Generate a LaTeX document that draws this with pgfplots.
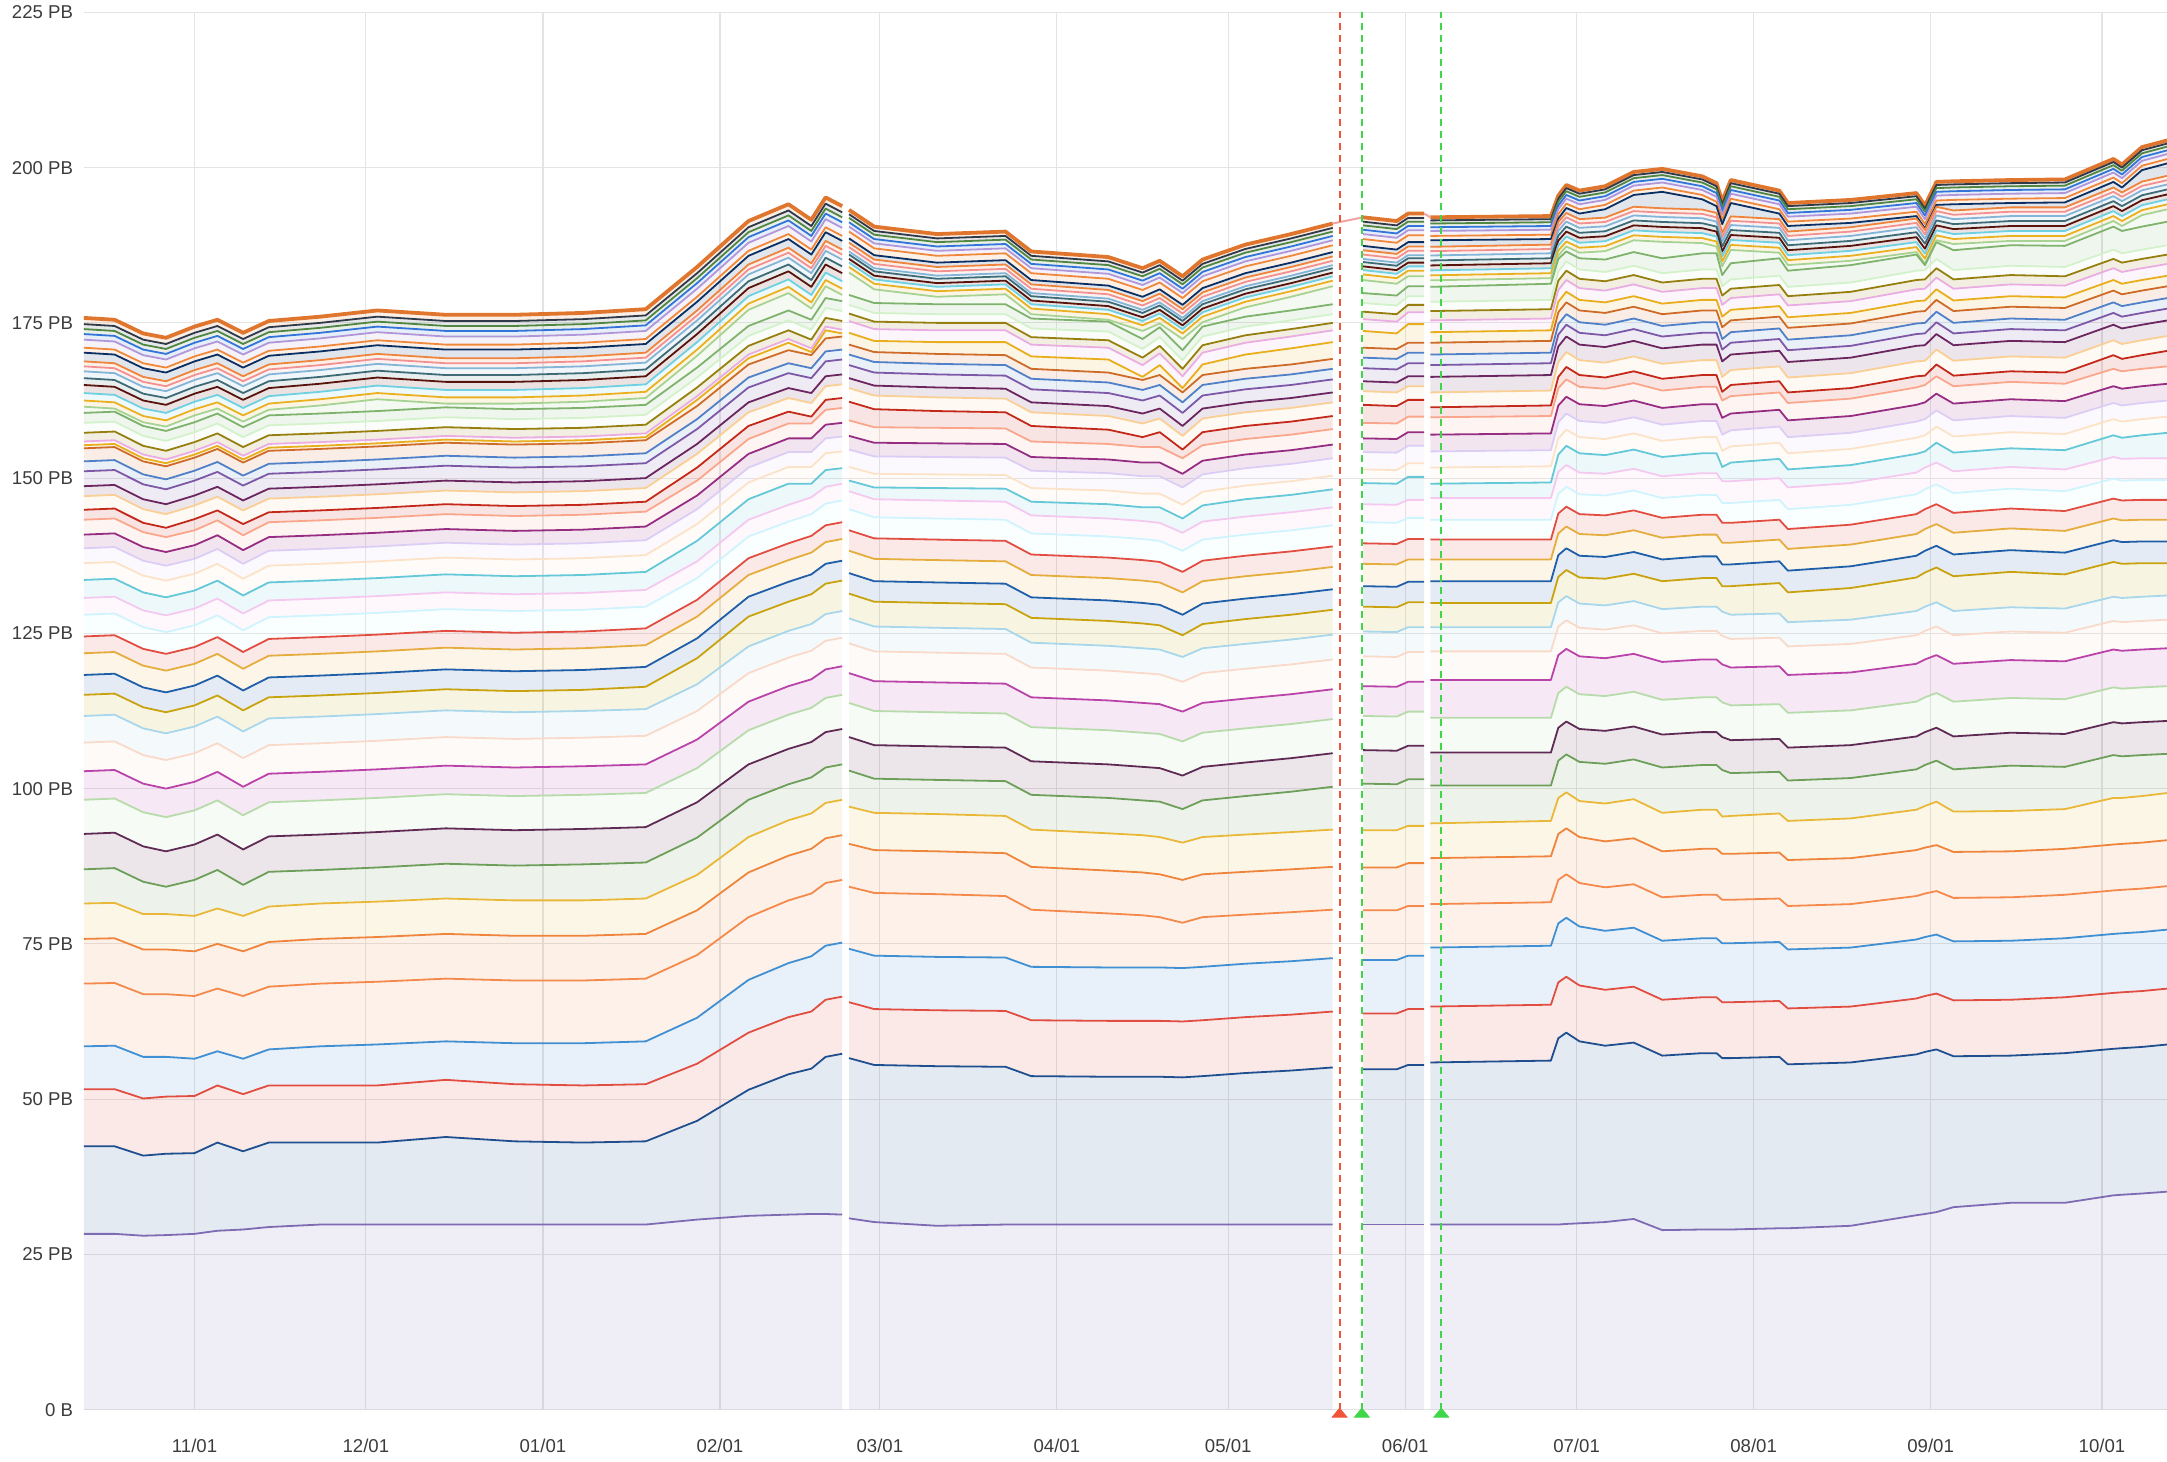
\documentclass[border=0pt]{standalone}
\usepackage{pgfplots}
\pgfplotsset{compat=1.18}
\usepackage{pgfplotstable}
\usepackage{fontspec}
\setmainfont{Liberation Sans}
\definecolor{c1}{HTML}{7E6BB4}\definecolor{c2}{HTML}{1F4F8F}\definecolor{c3}{HTML}{E24D42}
\definecolor{c4}{HTML}{3F8FD2}\definecolor{c5}{HTML}{F4894B}\definecolor{c6}{HTML}{EF843C}
\definecolor{c7}{HTML}{EAB839}\definecolor{c8}{HTML}{6D9F5A}\definecolor{c9}{HTML}{5F2B55}
\definecolor{c10}{HTML}{B7DBAB}\definecolor{c11}{HTML}{BA43A9}\definecolor{c12}{HTML}{F9D9C9}
\definecolor{c13}{HTML}{A8D6EA}\definecolor{c14}{HTML}{C9A30F}\definecolor{c15}{HTML}{1F5EA8}
\definecolor{c16}{HTML}{E5AC3E}\definecolor{c17}{HTML}{E24D42}\definecolor{c18}{HTML}{CFF4FD}
\definecolor{c19}{HTML}{F5C8F0}\definecolor{c20}{HTML}{64C8D8}\definecolor{c21}{HTML}{FCE2C7}
\definecolor{c22}{HTML}{DCCDF5}\definecolor{c23}{HTML}{962D82}\definecolor{c24}{HTML}{F9A68C}
\definecolor{c25}{HTML}{C4281B}\definecolor{c26}{HTML}{F9CF95}\definecolor{c27}{HTML}{6B2660}
\definecolor{c28}{HTML}{7D58A6}\definecolor{c29}{HTML}{5080C8}\definecolor{c30}{HTML}{CF6B28}
\definecolor{c31}{HTML}{E8AE1C}\definecolor{c32}{HTML}{E9ADE2}\definecolor{c33}{HTML}{967F0F}
\definecolor{c34}{HTML}{D3F2CB}\definecolor{c35}{HTML}{7EB26D}\definecolor{c36}{HTML}{A6D394}
\definecolor{c37}{HTML}{EAB020}\definecolor{c38}{HTML}{6ED0E0}\definecolor{c39}{HTML}{58140C}
\definecolor{c40}{HTML}{3F6B77}\definecolor{c41}{HTML}{82B5D8}\definecolor{c42}{HTML}{F29191}
\definecolor{c43}{HTML}{EF843C}\definecolor{c44}{HTML}{0A2F63}\definecolor{c45}{HTML}{F0883B}
\definecolor{c46}{HTML}{B197D8}\definecolor{c47}{HTML}{3274D9}\definecolor{c48}{HTML}{508642}
\definecolor{c49}{HTML}{2F3948}\definecolor{c50}{HTML}{E0752D}
\definecolor{gridc}{HTML}{E4E4E4}\definecolor{txt}{HTML}{3C3C3C}
\definecolor{annred}{HTML}{F0553A}\definecolor{anngreen}{HTML}{3FD64A}\definecolor{pinkc}{HTML}{F2A3A3}

% layer thicknesses (PB), stacked: segment before the first gap
\pgfplotstableread{
t d1 d2 d3 d4 d5 d6 d7 d8 d9 d10 d11 d12 d13 d14 d15 d16 d17 d18 d19 d20 d21 d22 d23 d24 d25 d26 d27 d28 d29 d30 d31 d32 d33 d34 d35 d36 d37 d38 d39 d40 d41 d42 d43 d44 d45 d46 d47 d48 d49 d50
-19.4 28.3 14.1 9.2 6.9 10.1 7.2 5.7 5.5 5.7 5.5 4.6 4.6 4.3 3.4 3.2 3.5 2.7 3.5 2.7 2.9 2.7 2.4 2.2 2.4 1.6 2.2 1.6 2.4 1.6 2.1 0.5 0.6 1.4 1.6 1.6 1.0 1.0 1.2 1.3 1.1 1.1 0.8 0.8 1.4 0.8 1.3 0.9 0.8 0.8 1.0
-14 28.3 14.1 9.2 7.0 10.1 7.2 5.7 5.6 5.7 5.5 4.6 4.6 4.3 3.4 3.2 3.5 2.7 3.5 2.7 2.9 2.7 2.4 2.2 2.4 1.6 2.2 1.6 2.4 1.6 2.1 0.5 0.6 1.4 1.6 1.6 0.5 1.0 1.2 1.3 1.1 1.1 0.8 0.8 1.4 0.8 1.3 0.9 0.8 0.8 1.0
-9 28.0 12.9 9.2 6.7 10.1 7.2 5.7 5.2 5.7 5.5 4.6 4.6 4.3 3.4 3.2 3.5 2.7 3.5 2.7 2.9 2.7 2.4 2.2 2.4 1.5 2.2 1.6 2.4 1.6 2.1 0.5 0.6 1.4 1.6 1.6 0.6 1.0 1.2 1.3 1.1 1.1 0.8 0.8 1.4 0.8 1.3 0.9 0.8 0.8 1.0
-5 28.1 13.1 9.2 6.4 10.1 7.2 5.7 4.4 5.7 5.5 4.6 4.6 4.3 3.4 3.2 3.5 2.7 3.5 2.7 2.9 2.7 2.4 2.2 2.4 1.5 2.2 1.6 2.4 1.6 2.1 0.5 0.6 1.4 1.6 1.6 0.7 1.0 1.2 1.3 1.1 1.1 0.8 0.8 1.4 0.8 1.3 0.9 0.8 0.8 1.0
0 28.3 13.0 9.2 6.0 10.1 7.2 5.7 5.8 5.7 5.5 4.6 4.6 4.3 3.4 3.2 3.5 2.7 3.5 2.7 2.9 2.7 2.4 2.2 2.4 1.8 2.2 1.6 2.4 1.6 2.1 0.5 0.6 1.4 1.6 1.6 1.1 1.0 1.2 1.3 1.1 1.1 0.8 0.8 1.4 0.8 1.3 0.9 0.8 0.8 1.0
4 28.8 14.2 9.2 5.5 10.1 7.2 5.7 6.2 5.7 5.5 4.6 4.6 4.3 3.4 3.2 3.5 2.7 3.5 2.7 2.9 2.7 2.4 2.2 2.4 1.6 2.2 1.6 2.4 1.6 2.1 0.5 0.6 1.4 1.6 1.6 0.8 1.0 1.2 1.3 1.1 1.1 0.8 0.8 1.4 0.8 1.3 0.9 0.8 0.8 1.0
8.5 29.0 12.6 9.2 5.7 10.1 7.2 5.7 5.0 5.7 5.5 4.6 4.6 4.3 3.4 3.2 3.5 2.7 3.5 2.7 2.9 2.7 2.4 2.2 2.4 1.8 2.2 1.6 2.4 1.6 2.1 0.5 0.6 1.4 1.6 1.6 0.9 1.0 1.2 1.3 1.1 1.1 0.8 0.8 1.4 0.8 1.3 0.9 0.8 0.8 1.0
13 29.4 13.6 9.2 5.8 10.1 7.2 5.7 5.6 5.7 5.5 4.6 4.6 4.3 3.4 3.2 3.5 2.7 3.5 2.7 2.9 2.7 2.4 2.2 2.4 1.6 2.2 1.6 2.4 1.6 2.1 0.5 0.6 1.4 1.6 1.6 0.9 1.0 1.2 1.3 1.1 1.1 0.8 0.8 1.4 0.8 1.3 0.9 0.8 0.8 1.0
22 29.8 13.2 9.2 6.3 10.1 7.2 5.7 5.4 5.7 5.5 4.6 4.6 4.3 3.4 3.2 3.5 2.7 3.5 2.7 2.9 2.7 2.4 2.2 2.4 1.6 2.2 1.6 2.4 1.6 2.1 0.5 0.6 1.4 1.6 1.6 1.3 1.0 1.2 1.3 1.1 1.1 0.8 0.8 1.4 0.8 1.3 0.9 0.8 0.8 1.0
32 29.8 13.2 9.2 6.6 10.1 7.2 5.7 5.5 5.7 5.5 4.6 4.6 4.3 3.4 3.2 3.5 2.7 3.5 2.7 2.9 2.7 2.4 2.2 2.4 1.6 2.2 1.6 2.4 1.6 2.1 0.5 0.6 1.4 1.6 1.6 1.9 1.0 1.2 1.3 1.1 1.1 0.8 0.8 1.4 0.8 1.3 0.9 0.8 0.8 1.0
44 29.8 14.1 9.2 6.2 10.1 7.2 5.7 5.6 5.7 5.5 4.6 4.6 4.3 3.4 3.2 3.5 2.7 3.5 2.7 2.9 2.7 2.4 2.2 2.4 1.6 2.2 1.6 2.4 1.6 2.1 0.5 0.6 1.4 1.6 1.6 0.6 1.0 1.2 1.3 1.1 1.1 0.8 0.8 1.4 0.8 1.3 0.9 0.8 0.8 1.0
56 29.8 13.4 9.2 6.6 10.1 7.2 5.7 5.6 5.7 5.5 4.6 4.6 4.3 3.4 3.2 3.5 2.7 3.5 2.7 2.9 2.7 2.4 2.2 2.4 1.6 2.2 1.6 2.4 1.6 2.1 0.5 0.6 1.4 1.6 1.6 0.9 1.0 1.2 1.3 1.1 1.1 0.8 0.8 1.4 0.8 1.3 0.9 0.8 0.8 1.0
68 29.8 13.2 9.2 6.8 10.1 7.2 5.7 5.8 5.7 5.5 4.6 4.6 4.3 3.4 3.2 3.5 2.7 3.5 2.7 2.9 2.7 2.4 2.2 2.4 1.6 2.2 1.6 2.4 1.6 2.1 0.5 0.6 1.4 1.6 1.6 1.0 1.0 1.2 1.3 1.1 1.1 0.8 0.8 1.4 0.8 1.3 0.9 0.8 0.8 1.0
79 29.8 13.4 9.2 6.9 10.1 7.2 5.7 5.8 5.7 5.5 4.6 4.6 4.3 3.6 3.2 3.5 2.7 3.5 2.7 2.9 2.7 2.4 2.2 2.4 1.6 2.2 1.6 2.4 1.6 2.1 0.5 0.6 1.4 1.6 1.6 1.1 1.0 1.2 1.3 1.1 1.1 0.8 0.8 1.4 0.8 1.3 0.9 0.8 0.8 1.0
88 30.6 15.9 9.2 7.4 10.1 7.2 5.7 6.0 5.7 5.5 4.6 4.6 4.3 4.2 3.2 3.5 2.7 3.5 2.7 3.3 2.7 2.4 2.2 2.4 2.1 2.2 1.6 2.4 1.6 2.1 1.0 0.6 1.4 1.6 1.6 1.9 1.0 1.2 1.3 1.1 1.1 0.8 0.8 1.4 0.8 1.3 0.9 0.8 0.8 1.0
97 31.2 20.3 9.2 8.5 10.1 7.2 5.7 6.0 5.7 5.5 4.6 4.6 4.3 4.8 3.2 3.5 2.7 3.5 2.7 3.3 2.7 2.4 2.2 2.4 2.1 2.2 1.6 2.4 1.6 2.1 1.0 0.6 1.4 1.6 1.6 2.6 1.0 1.2 1.3 1.1 1.1 0.8 0.8 1.4 0.8 1.3 0.9 0.8 0.8 1.0
104 31.4 22.6 9.2 8.7 10.1 7.2 5.7 5.8 5.7 5.5 4.6 4.6 4.3 4.7 3.2 3.5 2.7 3.5 2.7 3.4 2.7 2.4 2.2 2.4 1.9 2.2 1.6 2.4 1.6 2.1 1.2 0.6 1.4 1.6 1.6 2.8 1.0 1.2 1.3 1.1 1.1 0.8 0.8 1.4 0.8 1.3 0.9 0.8 0.8 1.0
108 31.5 23.4 9.2 8.9 10.1 7.2 5.7 5.8 5.7 5.5 4.6 4.6 4.3 4.8 3.2 3.5 2.7 3.5 2.7 2.2 2.7 2.4 2.2 2.4 1.1 2.2 1.6 2.4 1.6 2.1 0.5 0.6 1.4 1.6 1.6 1.8 1.0 1.2 1.3 1.1 1.1 0.8 0.8 1.4 0.8 1.3 0.9 0.8 0.8 1.0
110.5 31.5 25.3 9.2 8.7 10.1 7.2 5.7 5.7 5.7 5.5 4.6 4.6 4.3 4.9 3.2 3.5 2.7 3.5 2.7 2.7 2.7 2.4 2.2 2.4 1.6 2.2 1.6 2.4 1.6 2.1 1.3 0.6 1.4 1.6 1.6 1.9 1.0 1.2 1.3 1.1 1.1 0.8 0.8 1.4 0.8 1.3 0.9 0.8 0.8 1.0
113.4 31.4 25.9 9.2 8.7 10.1 7.2 5.7 5.7 5.7 5.5 4.6 4.6 4.3 4.9 3.2 3.5 2.7 3.5 2.7 2.5 2.7 2.4 2.2 2.4 1.6 2.2 1.6 2.4 1.6 2.1 0.5 0.6 1.4 1.6 1.6 1.0 1.0 1.2 1.3 1.1 1.1 0.8 0.8 1.4 0.8 1.3 0.9 0.8 0.8 1.0
}\segA

\pgfplotstableread{
t d1 d2 d3 d4 d5 d6 d7 d8 d9 d10 d11 d12 d13 d14 d15 d16 d17 d18 d19 d20 d21 d22 d23 d24 d25 d26 d27 d28 d29 d30 d31 d32 d33 d34 d35 d36 d37 d38 d39 d40 d41 d42 d43 d44 d45 d46 d47 d48 d49 d50
114.6 30.8 25.8 9.0 8.6 10.0 6.9 6.0 5.8 5.4 5.5 4.8 4.8 4.0 4.0 3.3 3.6 3.3 3.4 2.9 1.7 2.2 2.8 2.2 2.5 3.0 2.2 1.6 2.1 1.7 1.6 1.9 1.9 1.2 1.4 1.6 3.6 0.9 0.7 0.6 0.7 0.5 0.7 0.7 0.7 1.1 0.8 0.7 0.7 0.6 0.7
119 30.2 25.3 9.0 8.6 10.1 6.9 6.0 5.5 5.4 5.5 4.8 4.8 4.0 4.0 3.3 3.6 3.3 3.4 2.9 1.9 2.2 2.8 2.2 2.5 2.9 2.2 1.6 2.1 1.7 1.6 1.8 1.9 1.2 1.4 1.6 2.2 0.9 0.7 0.6 0.7 0.5 0.7 0.7 0.7 1.1 0.8 0.7 0.7 0.6 0.7
130 29.6 25.7 9.0 8.6 10.1 6.9 6.0 5.5 5.4 5.5 4.8 4.8 4.0 4.0 3.3 3.6 3.3 3.4 2.9 2.0 2.2 2.8 2.2 2.5 2.7 2.2 1.6 2.1 1.7 1.6 1.9 1.9 1.2 1.4 1.6 1.2 0.9 0.7 0.6 0.7 0.5 0.7 0.7 0.7 1.1 0.8 0.7 0.7 0.6 0.7
142 29.8 25.4 9.0 8.6 9.9 6.9 6.0 5.6 5.4 5.5 4.8 4.8 4.0 4.0 3.3 3.6 3.3 3.4 2.9 2.1 2.2 2.8 2.2 2.5 2.6 2.2 1.6 2.1 1.7 1.6 2.1 1.9 1.2 1.4 1.6 1.6 0.9 0.7 0.6 0.7 0.5 0.7 0.7 0.7 1.1 0.8 0.7 0.7 0.6 0.7
146.5 29.8 23.9 9.0 8.6 9.2 6.9 6.0 5.6 5.4 5.5 4.8 4.8 4.0 4.0 3.3 3.6 3.3 3.4 2.9 2.2 2.2 2.8 2.2 2.5 2.5 2.2 1.6 2.1 1.7 1.6 2.0 1.9 1.2 1.4 1.6 0.7 0.9 0.7 0.6 0.7 0.5 0.7 0.7 0.7 1.1 0.8 0.7 0.7 0.6 0.7
160 29.8 23.8 9.0 8.6 8.7 6.9 6.0 5.7 5.4 5.5 4.8 4.8 4.0 4.0 3.3 3.6 3.3 3.4 2.9 2.3 2.2 2.8 2.2 2.5 2.3 2.2 1.6 2.1 1.7 1.6 2.1 1.9 1.2 1.4 1.6 0.3 0.9 0.7 0.6 0.7 0.5 0.7 0.7 0.7 1.1 0.8 0.7 0.7 0.6 0.7
166 29.8 23.8 9.0 8.6 8.4 6.9 6.0 5.6 5.4 5.5 4.8 4.8 4.0 4.0 3.3 3.6 3.3 3.4 2.9 2.2 2.2 2.8 2.2 2.5 1.6 2.2 1.6 2.1 1.7 1.6 0.5 1.9 1.2 1.4 1.6 1.3 0.9 0.7 0.6 0.7 0.5 0.7 0.7 0.7 1.1 0.8 0.7 0.7 0.6 0.7
169 29.8 23.8 9.0 8.6 8.1 6.9 6.0 5.7 5.4 5.5 4.8 4.8 4.0 3.9 3.3 3.6 3.3 3.4 2.9 2.5 2.2 2.8 2.2 2.5 2.4 2.2 1.6 2.1 1.7 1.6 1.6 1.9 1.2 1.4 1.6 0.6 0.9 0.7 0.6 0.7 0.5 0.7 0.7 0.7 1.1 0.8 0.7 0.7 0.6 0.7
173 29.8 23.7 9.0 8.6 7.3 6.9 6.0 5.4 5.4 5.5 4.8 4.8 4.0 3.5 3.3 3.6 3.3 3.4 2.9 2.3 2.2 2.8 2.2 2.5 1.4 2.2 1.6 2.1 1.7 1.6 0.7 1.9 1.2 1.4 1.6 1.8 0.9 0.7 0.6 0.7 0.5 0.7 0.7 0.7 1.1 0.8 0.7 0.7 0.6 0.7
176.5 29.8 23.9 9.0 8.6 8.0 6.9 6.0 5.9 5.4 5.5 4.8 4.8 4.0 3.9 3.3 3.6 3.3 3.4 2.9 2.6 2.2 2.8 2.2 2.5 2.1 2.2 1.6 2.1 1.7 1.6 1.7 1.9 1.2 1.4 1.6 0.7 0.9 0.7 0.6 0.7 0.5 0.7 0.7 0.7 1.1 0.8 0.7 0.7 0.6 0.7
184 29.8 24.4 9.0 8.6 7.9 6.9 6.0 6.2 5.4 5.5 4.8 4.8 4.0 4.0 3.3 3.6 3.3 3.4 2.9 2.8 2.2 2.8 2.2 2.5 2.1 2.2 1.6 2.1 1.7 1.6 2.3 1.9 1.2 1.4 1.6 1.5 0.9 0.7 0.6 0.7 0.5 0.7 0.7 0.7 1.1 0.8 0.7 0.7 0.6 0.7
192 29.8 24.8 9.0 8.6 7.9 6.9 6.0 6.5 5.4 5.5 4.8 4.8 4.0 4.0 3.3 3.6 3.3 3.4 2.9 2.8 2.2 2.8 2.2 2.5 2.1 2.2 1.6 2.1 1.7 1.6 2.6 1.9 1.2 1.4 1.6 2.2 0.9 0.7 0.6 0.7 0.5 0.7 0.7 0.7 1.1 0.8 0.7 0.7 0.6 0.7
199.3 29.8 25.3 9.0 8.6 7.8 6.9 6.0 6.9 5.4 5.5 4.8 4.8 4.0 4.0 3.3 3.6 3.3 3.4 2.9 2.9 2.2 2.8 2.2 2.5 2.1 2.2 1.6 2.1 1.7 1.6 2.7 1.9 1.2 1.4 1.6 2.9 0.9 0.7 0.6 0.7 0.5 0.7 0.7 0.7 1.1 0.8 0.7 0.7 0.6 0.7
}\segB

\pgfplotstableread{
t d1 d2 d3 d4 d5 d6 d7 d8 d9 d10 d11 d12 d13 d14 d15 d16 d17 d18 d19 d20 d21 d22 d23 d24 d25 d26 d27 d28 d29 d30 d31 d32 d33 d34 d35 d36 d37 d38 d39 d40 d41 d42 d43 d44 d45 d46 d47 d48 d49 d50
204.6 29.8 25.0 9.0 8.6 8.0 6.9 6.0 7.5 5.4 5.5 4.8 4.8 4.0 4.0 3.3 3.6 3.3 3.4 2.9 3.4 2.2 2.8 2.2 2.5 2.9 2.2 1.6 2.1 1.7 1.6 2.7 1.9 1.2 1.4 1.6 2.1 0.9 0.7 0.6 0.7 0.5 0.7 0.7 0.7 1.1 0.8 0.7 0.7 0.6 0.7
210.5 29.8 25.0 9.0 8.6 8.0 6.9 6.0 7.4 5.4 5.5 4.8 4.8 4.0 4.0 3.3 3.6 3.3 3.4 2.9 3.4 2.2 2.8 2.2 2.5 2.8 2.2 1.6 2.1 1.7 1.6 2.5 1.9 1.2 1.4 1.6 1.9 0.9 0.7 0.6 0.7 0.5 0.7 0.7 0.7 1.1 0.8 0.7 0.7 0.6 0.7
212.5 29.8 25.7 9.0 8.6 8.0 6.9 6.0 7.5 5.4 5.5 4.8 4.8 4.0 4.0 3.3 3.6 3.3 3.4 2.9 3.7 2.2 2.8 2.2 2.5 2.7 2.2 1.6 2.1 1.7 1.6 3.0 1.9 1.2 1.4 1.6 1.6 0.9 0.7 0.6 0.7 0.5 0.7 0.7 0.7 1.1 0.8 0.7 0.7 0.6 0.7
215.3 29.8 25.7 9.0 8.6 8.0 6.9 6.0 7.5 5.4 5.5 4.8 4.8 4.0 4.0 3.3 3.6 3.3 3.4 2.9 3.7 2.2 2.8 2.2 2.5 2.7 2.2 1.6 2.1 1.7 1.6 3.0 1.9 1.2 1.4 1.6 1.6 0.9 0.7 0.6 0.7 0.5 0.7 0.7 0.7 1.1 0.8 0.7 0.7 0.6 0.7
}\segC

\pgfplotstableread{
t d1 d2 d3 d4 d5 d6 d7 d8 d9 d10 d11 d12 d13 d14 d15 d16 d17 d18 d19 d20 d21 d22 d23 d24 d25 d26 d27 d28 d29 d30 d31 d32 d33 d34 d35 d36 d37 d38 d39 d40 d41 d42 d43 d44 d45 d46 d47 d48 d49 d50
216.4 29.8 26.1 9.0 9.5 7.0 7.4 5.6 6.1 5.3 5.6 6.1 4.6 3.9 3.9 3.5 3.5 3.2 3.2 3.5 2.3 2.6 2.6 2.7 2.8 1.6 2.4 2.5 1.9 1.7 1.9 1.7 1.9 1.5 1.5 2.4 1.05 0.8 0.8 0.8 0.8 0.8 0.7 0.7 1.05 0.7 0.8 0.6 0.6 0.5 0.5
237.5 29.8 26.4 9.0 9.5 7.0 7.4 5.7 5.7 5.3 5.6 6.1 4.6 3.9 3.9 3.5 3.5 3.2 3.2 3.5 2.5 2.6 2.6 2.7 2.8 1.7 2.4 2.5 1.9 1.7 1.9 1.7 1.9 1.5 1.5 2.6 0.9 0.8 0.8 0.8 0.8 0.8 0.7 0.7 0.9 0.7 0.8 0.6 0.6 0.5 0.5
238.8 29.8 30.0 9.0 9.5 7.0 7.4 5.8 6.0 5.3 5.6 6.1 4.6 3.9 4.1 3.5 3.5 3.2 3.2 3.5 2.8 2.6 2.6 2.7 2.8 1.8 2.4 2.5 1.9 1.7 1.9 1.7 1.9 1.5 1.5 2.0 0.55 0.8 0.8 0.8 0.8 0.8 0.7 0.7 0.55 0.7 0.8 0.6 0.6 0.5 0.5
240.2 29.9 30.8 9.0 9.5 7.0 7.4 5.8 6.1 5.3 5.6 6.1 4.6 3.9 4.2 3.5 3.5 3.2 3.2 3.5 3.1 2.6 2.6 2.7 2.8 2.0 2.4 2.5 1.9 1.7 1.9 1.7 1.9 1.5 1.5 1.6 0.8 0.8 0.8 0.8 0.8 0.8 0.7 0.7 0.8 0.7 0.8 0.6 0.6 0.5 0.5
242.5 30.0 29.3 9.0 9.5 7.0 7.4 5.8 6.3 5.3 5.6 6.1 4.6 3.9 4.2 3.5 3.5 3.2 3.2 3.5 3.1 2.6 2.6 2.7 2.8 1.9 2.4 2.5 1.9 1.7 1.9 1.7 1.9 1.5 1.5 1.8 0.9 0.8 0.8 0.8 0.8 0.8 0.7 0.7 0.9 0.7 0.8 0.6 0.6 0.5 0.5
247 30.2 28.4 9.0 9.5 7.0 7.4 6.1 6.4 5.3 5.6 6.1 4.6 3.9 4.3 3.5 3.5 3.2 3.2 3.5 3.0 2.6 2.6 2.7 2.8 1.8 2.4 2.5 1.9 1.7 1.9 1.7 1.9 1.5 1.5 2.0 1.35 0.8 0.8 0.8 0.8 0.8 0.7 0.7 1.35 0.7 0.8 0.6 0.6 0.5 0.5
252 30.7 28.4 9.0 9.5 7.0 7.4 6.3 6.4 5.3 5.6 6.1 4.6 3.9 4.4 3.5 3.5 3.2 3.2 3.5 3.1 2.6 2.6 2.7 2.8 1.9 2.4 2.5 1.9 1.7 1.9 1.7 1.9 1.5 1.5 2.2 1.9 0.8 0.8 0.8 0.8 0.8 0.7 0.7 1.9 0.7 0.8 0.6 0.6 0.5 0.5
257 28.9 28.1 9.0 9.5 7.0 7.4 6.2 7.3 5.3 5.6 6.1 4.6 3.9 4.5 3.5 3.5 3.2 3.2 3.5 3.1 2.6 2.6 2.7 2.8 1.9 2.4 2.5 1.9 1.7 1.9 1.7 1.9 1.5 1.5 2.4 2.65 0.8 0.8 0.8 0.8 0.8 0.7 0.7 2.65 0.7 0.8 0.6 0.6 0.5 0.5
264 29.0 28.4 9.0 9.5 7.0 7.4 6.3 7.2 5.3 5.6 6.1 4.6 3.9 4.6 3.5 3.5 3.2 3.2 3.5 3.2 2.6 2.6 2.7 2.8 1.9 2.4 2.5 1.9 1.7 1.9 1.7 1.9 1.5 1.5 2.6 1.65 0.8 0.8 0.8 0.8 0.8 0.7 0.7 1.65 0.7 0.8 0.6 0.6 0.5 0.5
266.5 29.0 28.4 9.0 9.5 7.0 7.4 6.3 7.2 5.3 5.6 6.1 4.6 3.9 4.6 3.5 3.5 3.2 3.2 3.5 3.2 2.6 2.6 2.7 2.8 1.9 2.4 2.5 1.9 1.7 1.9 1.7 1.9 1.5 1.5 2.6 1.1 0.8 0.8 0.8 0.8 0.8 0.7 0.7 1.1 0.7 0.8 0.6 0.6 0.5 0.5
267.5 29.0 27.6 9.0 9.5 7.0 7.4 6.0 7.5 5.3 5.6 6.1 4.6 3.9 4.1 3.5 3.5 3.2 3.2 3.5 2.3 2.6 2.6 2.7 2.8 1.4 2.4 2.5 1.9 1.7 1.9 1.7 1.9 1.5 1.5 1.8 1.4 0.8 0.8 0.8 0.8 0.8 0.7 0.7 1.4 0.7 0.8 0.6 0.6 0.5 0.5
269 29.0 27.6 9.0 9.5 7.0 7.4 6.1 6.9 5.3 5.6 6.1 4.6 3.9 4.6 3.5 3.5 3.2 3.2 3.5 3.0 2.6 2.6 2.7 2.8 1.8 2.4 2.5 1.9 1.7 1.9 1.7 1.9 1.5 1.5 2.6 2.15 0.8 0.8 0.8 0.8 0.8 0.7 0.7 2.15 0.7 0.8 0.6 0.6 0.5 0.5
277.5 29.2 27.6 9.0 9.5 7.0 7.4 6.3 6.7 5.3 5.6 6.1 4.6 3.9 4.9 3.5 3.5 3.2 3.2 3.5 3.1 2.6 2.6 2.7 2.8 1.8 2.4 2.5 1.9 1.7 1.9 1.7 1.9 1.5 1.5 2.8 0.9 0.8 0.8 0.8 0.8 0.8 0.7 0.7 0.9 0.7 0.8 0.6 0.6 0.5 0.5
279 29.2 26.4 9.0 9.5 7.0 7.4 6.3 6.5 5.3 5.6 6.1 4.6 3.9 4.8 3.5 3.5 3.2 3.2 3.5 2.9 2.6 2.6 2.7 2.8 1.7 2.4 2.5 1.9 1.7 1.9 1.7 1.9 1.5 1.5 2.6 0.9 0.8 0.8 0.8 0.8 0.8 0.7 0.7 0.9 0.7 0.8 0.6 0.6 0.5 0.5
290 29.6 26.3 9.0 9.5 7.0 7.4 6.4 6.5 5.3 5.6 6.1 4.6 3.9 5.1 3.5 3.5 3.2 3.2 3.5 2.9 2.6 2.6 2.7 2.8 1.7 2.4 2.5 1.9 1.7 1.9 1.7 1.9 1.5 1.5 2.8 0.7 0.8 0.8 0.8 0.8 0.8 0.7 0.7 0.7 0.7 0.8 0.6 0.6 0.5 0.5
301.5 31.3 25.9 9.0 9.5 7.0 7.4 6.5 6.5 5.3 5.6 6.1 4.6 3.9 5.4 3.5 3.5 3.2 3.2 3.5 3.0 2.6 2.6 2.7 2.8 1.8 2.4 2.5 1.9 1.7 1.9 1.7 1.9 1.5 1.5 2.6 0.4 0.8 0.8 0.8 0.8 0.8 0.7 0.7 0.4 0.7 0.8 0.6 0.6 0.5 0.5
303 31.5 26.1 9.0 9.5 7.0 7.4 6.7 6.6 5.3 5.6 6.1 4.6 3.9 5.5 3.5 3.5 3.2 3.2 3.5 2.6 2.6 2.6 2.7 2.8 1.5 2.4 2.5 1.9 1.7 1.9 1.7 1.9 1.5 1.5 0.8 0.25 0.8 0.8 0.8 0.8 0.8 0.7 0.7 0.25 0.7 0.8 0.6 0.6 0.5 0.5
305 31.8 26.2 9.0 9.5 7.0 7.4 7.0 6.6 5.3 5.6 6.1 4.6 3.9 5.6 3.5 3.5 3.2 3.2 3.5 3.2 2.6 2.6 2.7 2.8 1.9 2.4 2.5 1.9 1.7 1.9 1.7 1.9 1.5 1.5 2.7 0.3 0.8 0.8 0.8 0.8 0.8 0.7 0.7 0.3 0.7 0.8 0.6 0.6 0.5 0.5
308 32.6 24.3 9.0 9.5 7.0 7.4 6.5 6.8 5.3 5.6 6.1 4.6 3.9 5.6 3.5 3.5 3.2 3.2 3.5 3.0 2.6 2.6 2.7 2.8 1.7 2.4 2.5 1.9 1.7 1.9 1.7 1.9 1.5 1.5 3.2 1.0 0.8 0.8 0.8 0.8 0.8 0.7 0.7 1.0 0.7 0.8 0.6 0.6 0.5 0.5
318 33.3 23.7 9.0 9.5 7.0 7.4 6.5 7.3 5.3 5.6 6.1 4.6 3.9 5.7 3.5 3.5 3.2 3.2 3.5 3.0 2.6 2.6 2.7 2.8 1.7 2.4 2.5 1.9 1.7 1.9 1.7 1.9 1.5 1.5 3.3 0.7 0.8 0.8 0.8 0.8 0.8 0.7 0.7 0.7 0.7 0.8 0.6 0.6 0.5 0.5
327.5 33.3 24.1 9.0 9.5 7.0 7.4 6.4 6.8 5.3 5.6 6.1 4.6 3.9 5.5 3.5 3.5 3.2 3.2 3.5 3.1 2.6 2.6 2.7 2.8 1.8 2.4 2.5 1.9 1.7 1.9 1.7 1.9 1.5 1.5 3.4 0.8 0.8 0.8 0.8 0.8 0.8 0.7 0.7 0.8 0.7 0.8 0.6 0.6 0.5 0.5
336 34.5 23.6 9.0 9.5 7.0 7.4 7.5 6.9 5.3 5.6 6.1 4.6 3.9 5.6 3.5 3.5 3.2 3.2 3.5 3.5 2.6 2.6 2.7 2.8 2.2 2.4 2.5 1.9 1.7 1.9 1.7 1.9 1.5 1.5 3.7 0.9 0.8 0.8 0.8 0.8 0.8 0.7 0.7 0.9 0.7 0.8 0.6 0.6 0.5 0.5
337.5 34.6 23.6 9.0 9.5 7.0 7.4 7.4 6.7 5.3 5.6 6.1 4.6 3.9 5.5 3.5 3.5 3.2 3.2 3.5 3.4 2.6 2.6 2.7 2.8 2.0 2.4 2.5 1.9 1.7 1.9 1.7 1.9 1.5 1.5 3.6 0.8 0.8 0.8 0.8 0.8 0.8 0.7 0.7 0.8 0.7 0.8 0.6 0.6 0.5 0.5
341 34.8 23.6 9.0 9.5 7.0 7.4 7.5 6.6 5.3 5.6 6.1 4.6 3.9 5.4 3.5 3.5 3.2 3.2 3.5 3.7 2.6 2.6 2.7 2.8 2.2 2.4 2.5 1.9 1.7 1.9 1.7 1.9 1.5 1.5 3.7 1.85 0.8 0.8 0.8 0.8 0.8 0.7 0.7 1.85 0.7 0.8 0.6 0.6 0.5 0.5
345.5 35.1 23.7 9.0 9.5 7.0 7.4 7.6 6.3 5.3 5.6 6.1 4.6 3.9 5.2 3.5 3.5 3.2 3.2 3.5 4.1 2.6 2.6 2.7 2.8 2.5 2.4 2.5 1.9 1.7 1.9 1.7 1.9 1.5 1.5 3.8 2.0 0.8 0.8 0.8 0.8 0.8 0.7 0.7 2.0 0.7 0.8 0.6 0.6 0.5 0.5
}\segD

\pgfplotsset{
  basebox/.style={at={(0pt,0pt)}, anchor=south west, scale only axis,
    width=1041.5pt, height=698.6pt, xmin=-19.36, xmax=345.4, ymin=0, ymax=225},
  stacklayer/.style={basebox, hide axis, stack plots=y},
}
\newcommand{\fillseg}[1]{%
  \begin{axis}[stacklayer]
  \pgfplotsinvokeforeach{1,...,50}{\addplot[draw=none, fill=c##1, fill opacity=0.12] table[x=t,y=d##1]{#1} \closedcycle;}
  \end{axis}}
\newcommand{\lineseg}[1]{%
  \begin{axis}[stacklayer]
  \pgfplotsinvokeforeach{1,...,49}{\addplot[color=c##1, line width=0.9pt, line join=round] table[x=t,y=d##1]{#1};}
  \addplot[color=c50, line width=1.9pt, line join=round] table[x=t,y=d50]{#1};
  \end{axis}}

\begin{document}
\begin{tikzpicture}
\useasboundingbox (-42pt,-25.7pt) rectangle (1041.5pt,704.8pt);
\begin{axis}[basebox,
  grid=major, major grid style={draw=gridc, line width=0.6pt},
  axis line style={draw=none}, major tick length=0pt,
  xtick={0,30,61,92,120,151,181,212,242,273,304,334},
  xticklabels={11/01,12/01,01/01,02/01,03/01,04/01,05/01,06/01,07/01,08/01,09/01,10/01},
  ytick={0,25,50,75,100,125,150,175,200,225},
  yticklabels={0 B,25 PB,50 PB,75 PB,100 PB,125 PB,150 PB,175 PB,200 PB,225 PB},
  tick label style={font=\fontsize{9.3pt}{11pt}\selectfont, text=txt},
  xticklabel style={yshift=-11pt},
  yticklabel style={xshift=-2pt}]
\end{axis}
\fillseg{\segA}\fillseg{\segB}\fillseg{\segC}\fillseg{\segD}
\lineseg{\segA}\lineseg{\segB}\lineseg{\segC}\lineseg{\segD}
\begin{axis}[basebox, hide axis, clip=false]
\addplot[color=pinkc, line width=1pt] coordinates {(199.3,191.0) (204.6,192.0)};
\addplot[color=pinkc, line width=1pt] coordinates {(215.3,192.6) (216.4,192.0)};
\addplot[color=annred, line width=0.9pt, dash pattern=on 3.5pt off 2.5pt] coordinates {(200.5,0) (200.5,225)};
\addplot[color=anngreen, line width=0.9pt, dash pattern=on 3.5pt off 2.5pt] coordinates {(204.4,0) (204.4,225)};
\addplot[color=anngreen, line width=0.9pt, dash pattern=on 3.5pt off 2.5pt] coordinates {(218.3,0) (218.3,225)};
\addplot[only marks, mark=triangle*, color=annred, mark size=4.3pt, mark options={yscale=0.7, yshift=-3.3pt}] coordinates {(200.5,0)};
\addplot[only marks, mark=triangle*, color=anngreen, mark size=4.3pt, mark options={yscale=0.7, yshift=-3.3pt}] coordinates {(204.4,0) (218.3,0)};
\end{axis}
\end{tikzpicture}
\end{document}
